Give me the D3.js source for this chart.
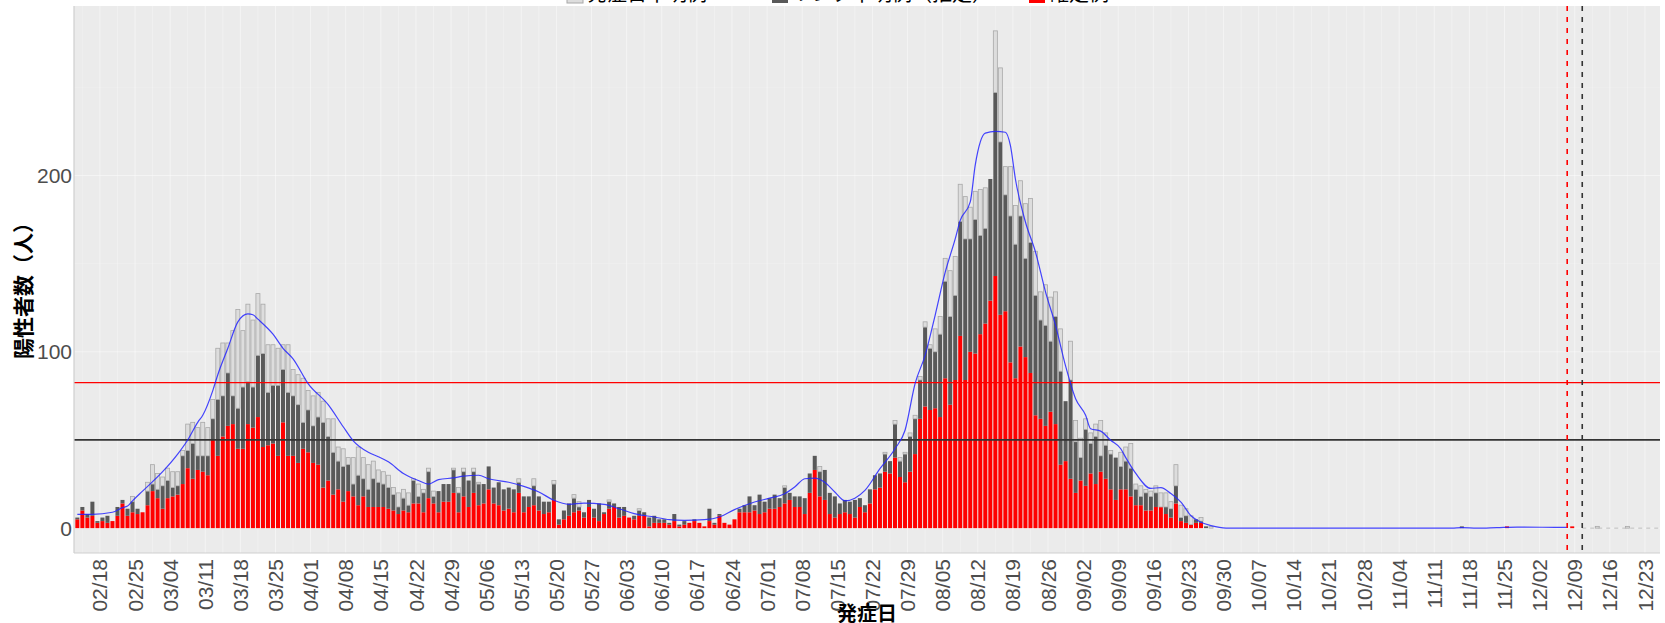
<!DOCTYPE html>
<html>
<head>
<meta charset="utf-8">
<script src="https://cdn.jsdelivr.net/npm/d3@7"></script>
<style>
  body { margin: 0; background: #fff; }
  svg { display: block; }
</style>
</head>
<body>
<div id="chart"></div>
<script>
// Datos: un valor por día desde firstDay (2021)
const firstDay = "2021-02-13";

const redVals = [
  5,10,6,7,3,4,3,4,7,14,
  7,9,8,9,13,21,17,11,17,18,
  19,25,34,28,33,32,30,50,41,52,
  58,59,45,45,59,57,63,46,47,48,
  41,60,41,41,37,45,43,37,36,23,
  27,19,22,15,21,18,13,18,12,12,
  12,12,11,10,8,10,9,14,14,9,
  17,14,9,15,15,20,9,18,12,20,
  13,14,22,14,13,10,11,9,20,9,
  12,13,10,8,9,16,2,5,7,9,
  10,6,12,6,4,8,11,12,6,7,
  6,5,7,7,1,3,3,3,2,4,
  1,2,3,4,3,1,4,2,7,3,
  2,5,9,9,9,10,8,9,11,11,
  12,14,16,12,12,8,20,33,18,16,
  8,6,8,9,8,6,12,9,14,22,
  23,32,31,40,29,26,32,42,62,69,
  67,68,63,85,70,84,109,84,100,99,
  110,116,129,143,121,123,94,85,103,97,
  88,64,62,58,66,59,36,38,28,20,
  27,24,31,25,32,28,22,16,22,22,
  18,13,13,10,10,12,12,8,6,14,
  4,3,2,3,3,0,0
];

const darkVals = [
  1,2,2,8,1,2,4,0,5,2,
  4,6,3,0,8,4,5,13,10,5,
  5,16,10,20,8,9,11,12,32,23,
  30,16,23,35,24,23,35,53,30,33,
  40,30,36,34,33,15,24,21,27,37,
  25,24,16,20,15,7,17,10,10,16,
  14,13,12,9,4,7,4,13,4,11,
  15,4,12,10,10,13,11,14,15,12,
  12,11,13,9,13,12,12,13,6,9,
  6,11,8,7,6,9,3,5,7,8,
  2,3,4,5,10,1,4,2,6,5,
  0,2,3,2,5,4,2,2,1,4,
  1,2,0,1,0,0,7,1,1,0,
  0,0,2,4,9,3,11,6,6,8,
  5,9,4,6,6,9,11,8,14,17,
  12,12,6,7,7,10,5,4,8,8,
  8,10,7,19,9,16,20,20,22,45,
  35,32,47,55,50,48,65,80,64,76,
  56,54,69,104,98,66,83,76,74,56,
  74,68,56,57,40,61,53,34,56,29,
  13,32,17,27,9,19,20,24,13,16,
  16,9,5,10,8,8,0,4,5,10,
  2,4,0,2,1,1,0
];

const lightVals = [
  0,0,0,0,0,0,0,0,0,0,
  0,3,0,0,5,11,9,5,7,9,
  8,3,15,12,16,19,16,11,29,30,
  17,37,56,32,44,38,35,28,27,23,
  21,14,27,15,17,25,11,17,14,12,
  10,19,8,10,4,15,16,12,14,10,
  7,7,7,4,8,5,7,1,7,2,
  2,3,0,0,0,1,3,2,0,2,
  1,0,0,0,0,0,0,0,2,0,
  0,4,0,0,0,2,0,0,0,2,
  3,0,0,0,0,0,1,0,0,0,
  0,0,1,0,0,0,0,0,0,0,
  0,0,0,0,0,0,0,0,0,0,
  0,0,0,0,0,0,0,0,0,0,
  0,1,0,0,0,0,0,0,3,0,
  0,0,0,0,0,0,0,0,0,0,
  0,1,0,2,2,1,2,2,2,3,
  2,13,10,13,26,22,21,24,18,16,
  26,23,0,35,42,16,28,22,20,31,
  25,25,16,23,25,14,24,0,22,12,
  11,6,6,7,20,7,2,0,8,8,
  14,3,6,2,3,4,8,8,4,12,
  7,4,5,0,2,0,1
];

// Barras sueltas de noviembre y diciembre
const tailDays  = ["2021-11-16","2021-11-25","2021-12-08","2021-12-13","2021-12-19"];
const tailRed   = [0,1,1,0,0];
const tailDark  = [1,0,0,0,0];
const tailLight = [0,0,0,1,1];

// Línea azul (promedio suavizado)
const blueDays = [
  "02-13","02-16","02-20","02-22","02-23","02-24","02-26","03-02","03-05","03-07",
  "03-09","03-10","03-12","03-13","03-15","03-17","03-19","03-20","03-21","03-24",
  "03-26","03-28","03-31","04-04","04-07","04-09","04-12","04-14","04-16","04-19",
  "04-22","04-24","04-26","04-29","05-01","05-04","05-06","05-10","05-13","05-16",
  "05-19","05-22","05-25","05-29","06-01","06-04","06-08","06-11","06-14","06-18",
  "06-21","06-24","06-28","07-01","07-04","07-06","07-08","07-10","07-12","07-14",
  "07-16","07-18","07-20","07-23","07-26","07-28","07-30","08-01","08-03","08-05",
  "08-07","08-08","08-10","08-11","08-13","08-15","08-17","08-18","08-19","08-21",
  "08-23","08-25","08-27","08-29","08-31","09-02","09-03","09-05","09-07","09-09",
  "09-10","09-12","09-15","09-17","09-19","09-21","09-23","09-25","09-27","09-30",
  "11-14","11-16","11-19","11-23","11-27","12-02","12-07"
];
const blueVals = [
  7.8,7.8,9,11.6,12.5,15.5,21,32,42,50,
  60,64,78,87,102,117,121.5,121,118.5,110,
  102,96,82,70,57.5,49.5,43,40.5,37.6,31,
  27,25,27.5,28.5,29.5,30,28,26,23.7,20.5,
  15.8,13.5,14.2,13.5,11,8.2,6.3,4.8,4.4,4.8,
  6.3,10.5,14.8,17,19.5,23.3,28,28.4,26,20.5,
  15.5,17,21.4,33.7,45,55.5,82,98,120.7,145,
  164,174.5,185,206,224,225,224.5,217,198,173.6,
  156.6,134,115,92,73.4,64,56.4,55,49.8,45,
  40,31,22.5,23,19.6,14.7,7,3.3,1.4,0,
  0,0.3,0,0.3,0.6,0.5,0.4
];

const hRed = 82.5, hBlack = 50;
const vRedDay = "2021-12-07", vBlackDay = "2021-12-10";
const lastDay = "2021-12-25";
const yTicks = [0, 100, 200];
const legendLabels = ["発症日不明例", "リンク不明例（推定）", "確定例"];
const legendKeys = ["light", "dark", "red"];

// Configuración
const W = 1665, H = 623;
const panel = {left: 74, right: 1660, top: 6, bottom: 553};
const fills = {red: "#ff0000", dark: "#595959", light: "#dddddd"};
const latin = "'Liberation Sans', Arial, sans-serif";
const cjk = "'Noto Sans CJK JP', 'Noto Sans', sans-serif";

const parseDay = d3.timeParse("%Y-%m-%d");
const noon = d => d3.timeHour.offset(d, 12);
const start = parseDay(firstDay);

const rows = redVals.map((v, k) => ({
  date: d3.timeDay.offset(start, k), red: v, dark: darkVals[k], light: lightVals[k]
})).concat(tailDays.map((s, k) => ({
  date: parseDay(s), red: tailRed[k], dark: tailDark[k], light: tailLight[k]
})));

const series = d3.stack().keys(["red", "dark", "light"])(rows);
const yMax = d3.max(rows, d => d.red + d.dark + d.light);

const x = d3.scaleTime()
  .domain([d3.timeHour.offset(start, -4), d3.timeDay.offset(parseDay(lastDay), 1)])
  .range([panel.left, panel.right]);
const y = d3.scaleLinear()
  .domain([-0.05 * yMax, yMax * 1.05])
  .range([panel.bottom, panel.top]);

const dayW = x(d3.timeDay.offset(start, 1)) - x(start);
const barW = dayW * 0.8;

const svg = d3.select("#chart").append("svg")
  .attr("width", W).attr("height", H);

svg.append("defs").append("clipPath").attr("id", "clip")
  .append("rect")
  .attr("x", panel.left).attr("y", panel.top)
  .attr("width", panel.right - panel.left).attr("height", panel.bottom - panel.top);

// Fondo del panel
svg.append("rect")
  .attr("x", panel.left).attr("y", panel.top)
  .attr("width", panel.right - panel.left).attr("height", panel.bottom - panel.top)
  .attr("fill", "#ebebeb");

const xTicks = d3.timeThursday.range(parseDay("2021-02-18"), d3.timeDay.offset(parseDay("2021-12-23"), 1));
const xMinor = xTicks.map(t => d3.timeHour.offset(t, -84))
  .concat(xTicks.map(t => d3.timeHour.offset(t, 84)))
  .filter(t => t > x.domain()[0] && t < x.domain()[1]);
const yMinor = yTicks.map(v => v + 50);

// Rejilla
const grid = svg.append("g").attr("clip-path", "url(#clip)").attr("stroke", "#fff");
grid.selectAll(".vmin").data(xMinor).join("line")
  .attr("x1", d => x(d)).attr("x2", d => x(d))
  .attr("y1", panel.top).attr("y2", panel.bottom)
  .attr("stroke-width", 0.5).attr("stroke-opacity", 0.35);
grid.selectAll(".vmaj").data(xTicks).join("line")
  .attr("x1", d => x(d)).attr("x2", d => x(d))
  .attr("y1", panel.top).attr("y2", panel.bottom)
  .attr("stroke-width", 1).attr("stroke-opacity", 0.45);
grid.selectAll(".hmin").data(yMinor).join("line")
  .attr("x1", panel.left).attr("x2", panel.right)
  .attr("y1", d => y(d)).attr("y2", d => y(d))
  .attr("stroke-width", 0.5).attr("stroke-opacity", 0.35);
grid.selectAll(".hmaj").data(yTicks).join("line")
  .attr("x1", panel.left).attr("x2", panel.right)
  .attr("y1", d => y(d)).attr("y2", d => y(d))
  .attr("stroke-width", 1).attr("stroke-opacity", 0.45);

const plot = svg.append("g").attr("clip-path", "url(#clip)");

// Barras apiladas
plot.selectAll("g.serie").data(series).join("g")
  .attr("class", "serie")
  .attr("fill", s => fills[s.key])
  .attr("stroke", s => s.key === "light" ? "#a8a8a8" : "none")
  .attr("stroke-width", 0.8)
  .selectAll("rect").data(s => s.filter(d => d[1] > d[0])).join("rect")
  .attr("x", d => x(noon(d.data.date)) - barW / 2)
  .attr("y", d => y(d[1]))
  .attr("width", barW)
  .attr("height", d => y(d[0]) - y(d[1]));

// Líneas horizontales
plot.append("line")
  .attr("x1", panel.left).attr("x2", panel.right)
  .attr("y1", y(hBlack)).attr("y2", y(hBlack))
  .attr("stroke", "#333").attr("stroke-width", 1.8);
plot.append("line")
  .attr("x1", panel.left).attr("x2", panel.right)
  .attr("y1", y(hRed)).attr("y2", y(hRed))
  .attr("stroke", "#ff0000").attr("stroke-width", 1.4);

// Línea azul
const blue = blueDays.map((s, k) => ({date: parseDay("2021-" + s), v: blueVals[k]}));
plot.append("path")
  .datum(blue)
  .attr("fill", "none")
  .attr("stroke", "#2424ff")
  .attr("stroke-opacity", 0.85)
  .attr("stroke-width", 1.2)
  .attr("d", d3.line()
    .x(d => x(noon(d.date)))
    .y(d => y(d.v))
    .curve(d3.curveMonotoneX));

// Continuación gris punteada en cero
plot.append("line")
  .attr("x1", x(noon(parseDay(vBlackDay)))).attr("x2", panel.right)
  .attr("y1", y(0)).attr("y2", y(0))
  .attr("stroke", "#bdbdbd").attr("stroke-width", 1)
  .attr("stroke-dasharray", "4,4");

// Líneas verticales punteadas
[[vRedDay, "#ff0000"], [vBlackDay, "#333"]].forEach(([day, col]) => {
  plot.append("line")
    .attr("x1", x(noon(parseDay(day)))).attr("x2", x(noon(parseDay(day))))
    .attr("y1", panel.top).attr("y2", panel.bottom)
    .attr("stroke", col).attr("stroke-width", 1.6)
    .attr("stroke-dasharray", "5,6");
});

// Bordes de los ejes
svg.append("line")
  .attr("x1", panel.left).attr("x2", panel.left)
  .attr("y1", panel.top).attr("y2", panel.bottom)
  .attr("stroke", "#cfcfcf").attr("stroke-width", 1.2);
svg.append("line")
  .attr("x1", panel.left).attr("x2", panel.right)
  .attr("y1", panel.bottom).attr("y2", panel.bottom)
  .attr("stroke", "#cfcfcf").attr("stroke-width", 1.2);

// Etiquetas del eje Y
svg.selectAll(".ylab").data(yTicks).join("text")
  .attr("x", panel.left - 2).attr("y", d => y(d))
  .attr("dy", "0.36em")
  .attr("text-anchor", "end")
  .attr("font-family", latin).attr("font-size", 21)
  .attr("fill", "#4d4d4d")
  .text(d => d);

// Etiquetas del eje X (rotadas)
const fmt = d3.timeFormat("%m/%d");
svg.selectAll(".xlab").data(xTicks).join("text")
  .attr("transform", d => `translate(${x(d)},${panel.bottom + 6}) rotate(-90)`)
  .attr("dy", "0.36em")
  .attr("text-anchor", "end")
  .attr("font-family", latin).attr("font-size", 21)
  .attr("fill", "#4d4d4d")
  .text(d => fmt(d));

// Títulos de los ejes
svg.append("text")
  .attr("x", (panel.left + panel.right) / 2).attr("y", 621)
  .attr("text-anchor", "middle")
  .attr("font-family", cjk).attr("font-size", 20).attr("font-weight", "bold")
  .attr("fill", "#000")
  .text("発症日");
svg.append("text")
  .attr("transform", `translate(31,${(panel.top + panel.bottom) / 2 + 6}) rotate(-90)`)
  .attr("text-anchor", "middle")
  .attr("font-family", cjk).attr("font-size", 21).attr("font-weight", "bold")
  .attr("fill", "#000")
  .text("陽性者数（人）");

// Leyenda (cortada arriba, como en el original)
const legendX = [567, 772, 1029];
const leg = svg.append("g");
legendKeys.forEach((k, i) => {
  leg.append("rect")
    .attr("x", legendX[i]).attr("y", -13)
    .attr("width", 16).attr("height", 16)
    .attr("fill", fills[k])
    .attr("stroke", k === "light" ? "#a8a8a8" : "none");
  leg.append("text")
    .attr("x", legendX[i] + 20).attr("y", 0.5)
    .attr("font-family", cjk).attr("font-size", 20)
    .attr("fill", "#000")
    .text(legendLabels[i]);
});
</script>
</body>
</html>
